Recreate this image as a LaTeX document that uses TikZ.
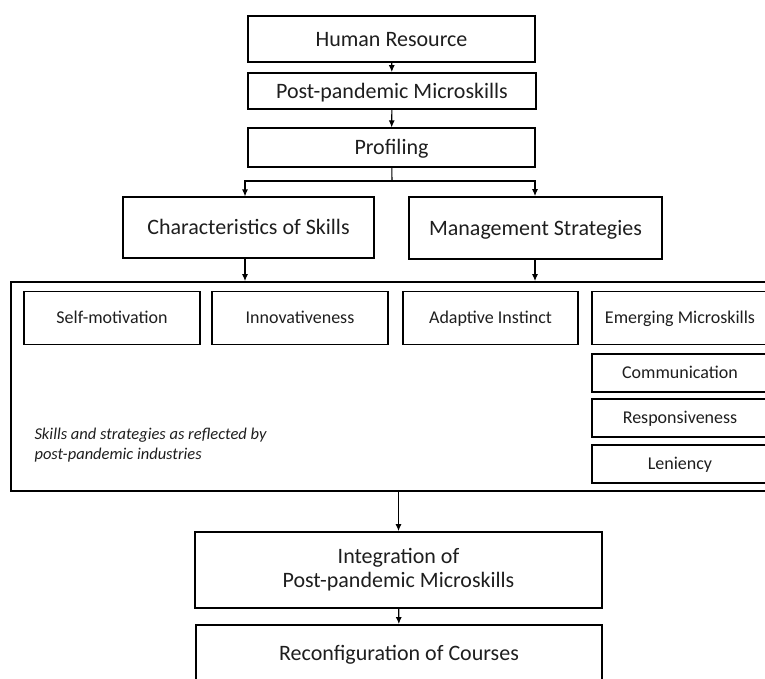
\documentclass[tikz,border=0pt]{standalone}
\usepackage{fontspec}
\setmainfont{Carlito}
\usetikzlibrary{arrows.meta,positioning}
\definecolor{inkcol}{RGB}{30,30,30}
\tikzset{
  flow box/.style={draw=black,line width=1.1pt,text=inkcol,inner sep=0pt,align=center},
  flow thick/.style={flow box,line width=1.8pt},
  one line/.style={text height=16pt,text depth=2pt},
  big txt/.style={font=\fontsize{22}{24}\selectfont},
  small txt/.style={font=\fontsize{18}{20}\selectfont,text height=13pt,text depth=1.5pt},
  flowarrow/.style={-{Latex[length=7pt,width=6pt]},draw=black,line width=1.1pt},
  flowline/.style={draw=black,line width=1.1pt}
}

\begin{document}
\begin{tikzpicture}[x=1pt,y=-1pt]
\useasboundingbox (0,0) rectangle (765,678);
% ---- top chain ----
\node[flow box,big txt,one line,minimum width=287,minimum height=46] (hr) at (391.5,39) {Human Resource};
\node[flow thick,big txt,one line,minimum width=288,minimum height=36] (post) at (392,91) {Post-pandemic Microskills};
\node[flow box,big txt,one line,minimum width=287,minimum height=39] (prof) at (391.5,147.5) {Profiling};
\draw[flowarrow] (hr) -- (post);
\draw[flowarrow] (post) -- (prof);
% ---- branches ----
\node[flow box,big txt,one line,minimum width=251,minimum height=61] (char) at (248.5,227.5) {Characteristics of Skills};
\node[flow thick,big txt,one line,minimum width=253,minimum height=62] (mgmt) at (535.5,228) {Management Strategies};
\coordinate (split) at (392,181);
\coordinate (brL) at (245,181);
\coordinate (brR) at (535,181);
\draw[flowline] (prof) -- (split);
\draw[flowarrow] (split) -- (brL) -- (brL |- char.north);
\draw[flowarrow] (split) -- (brR) -- (brR |- mgmt.north);
% ---- frame with skills ----
\node[flow thick,minimum width=760,minimum height=209] (frame) at (391,386.5) {};
\draw[flowarrow] (brL |- char.south) -- (brL |- frame.north);
\draw[flowarrow] (brR |- mgmt.south) -- (brR |- frame.north);
\node[flow box,small txt,minimum width=176,minimum height=53] (selfm) at (112,318) {Self-motivation};
\node[flow thick,small txt,minimum width=176,minimum height=53] (innov) at (300,318) {Innovativeness};
\node[flow thick,small txt,minimum width=175,minimum height=53] (adapt) at (490.5,318) {Adaptive Instinct};
\node[flow box,small txt,minimum width=176,minimum height=53] (emerg) at (680,318) {Emerging Microskills};
\node[flow thick,small txt,minimum width=176,minimum height=38] (comm) at (680,373) {Communication};
\node[flow box,small txt,minimum width=176,minimum height=38] (resp) at (680,418) {Responsiveness};
\node[flow box,small txt,minimum width=176,minimum height=38] (leni) at (680,464) {Leniency};
\node[anchor=west,align=left,text=inkcol,font=\fontsize{16.5}{20}\selectfont\itshape] (note) at (31,445)
  {Skills and strategies as reflected by\\post-pandemic industries};
% ---- bottom chain ----
\node[flow thick,big txt,minimum width=407,minimum height=76] (integ) at (398.5,570) {Integration of\\Post-pandemic Microskills};
\node[flow thick,big txt,one line,minimum width=406,minimum height=56] (reconf) at (399,653) {Reconfiguration of Courses};
\draw[flowarrow] (frame.south -| integ.north) -- (integ.north);
\draw[flowarrow] (integ) -- (reconf);
\end{tikzpicture}
\end{document}
